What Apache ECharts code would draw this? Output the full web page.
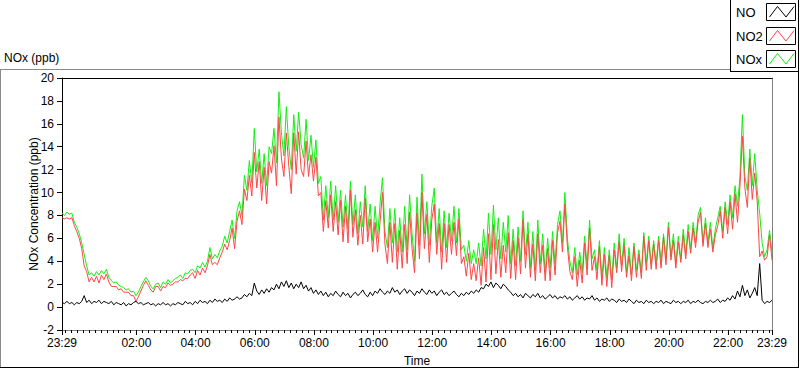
<!DOCTYPE html>
<html><head><meta charset="utf-8">
<script src="https://cdn.jsdelivr.net/npm/echarts@6/dist/echarts.min.js"></script>
<style>html,body{margin:0;padding:0;background:#fff}#c{width:800px;height:369px}</style>
</head><body><div id="c"></div>
<script>
// ---- data ----
const startTime = '23:29';
const stepMinutes = 5;
const seriesNames = ['NO', 'NO2', 'NOx'];
const xTickLabels = ['23:29','02:00','04:00','06:00','08:00','10:00','12:00','14:00','16:00','18:00','20:00','22:00','23:29'];
const yMin = -2, yMax = 20, yStep = 2;

const noValues = [
0.4,0.3,0.5,0.3,0.4,0.2,0.4,0.3,0.5,1.0,0.4,0.6,
0.3,0.5,0.4,0.6,0.3,0.5,0.4,0.3,0.5,0.2,0.4,0.3,
0.2,0.4,0.1,0.3,0.2,0.4,0.5,0.3,0.4,0.2,0.3,0.4,
0.2,0.3,0.1,0.3,0.2,0.4,0.2,0.3,0.1,0.3,0.2,0.4,
0.3,0.2,0.5,0.3,0.4,0.2,0.5,0.3,0.6,0.4,0.5,0.3,
0.6,0.4,0.7,0.5,0.6,0.4,0.7,0.5,0.8,0.6,0.7,0.9,
0.7,0.8,1.1,0.9,1.2,1.0,2.1,1.4,1.1,1.5,1.2,1.6,
1.3,1.7,1.5,2.0,1.6,2.2,1.8,2.3,1.7,2.1,1.6,2.0,
1.7,2.2,1.6,1.9,1.4,1.7,1.2,1.5,1.1,1.4,1.0,1.3,
0.9,1.2,1.0,1.4,1.1,0.9,1.3,1.0,1.2,0.8,1.1,1.3,
1.0,1.2,1.5,1.1,0.9,1.3,1.0,1.4,1.2,1.6,1.3,1.1,
1.4,1.2,1.7,1.3,1.5,1.1,1.4,1.6,1.2,1.5,1.3,1.0,
1.4,1.2,1.6,1.3,1.1,1.5,1.2,1.4,1.0,1.3,1.5,1.1,
1.3,1.0,1.2,1.4,1.1,0.9,1.2,1.0,1.3,1.1,1.4,1.2,
1.5,1.3,1.7,1.6,2.0,1.8,2.2,1.7,2.1,1.9,1.6,2.0,
1.8,1.5,1.3,1.0,1.2,0.9,1.1,0.8,1.2,1.0,0.8,1.1,
0.9,1.2,0.8,1.0,0.7,0.9,1.1,0.8,1.0,0.7,0.9,0.8,
1.0,0.7,0.9,0.6,0.8,1.0,0.7,0.9,0.6,0.8,0.7,1.0,
0.6,0.8,0.5,0.7,0.6,0.8,0.5,0.7,0.6,0.4,0.7,0.5,
0.6,0.4,0.7,0.5,0.3,0.6,0.4,0.5,0.3,0.6,0.4,0.5,
0.3,0.5,0.4,0.6,0.3,0.5,0.4,0.3,0.6,0.4,0.5,0.3,
0.5,0.4,0.6,0.3,0.5,0.4,0.6,0.4,0.3,0.5,0.4,0.6,
0.4,0.5,0.7,0.4,0.6,0.5,0.8,0.6,1.0,0.7,1.4,0.9,
1.9,1.0,1.5,0.8,1.2,1.7,1.0,3.8,0.6,0.3,0.5,0.4,0.6
];

const no2Values = [
7.8,7.7,7.8,7.7,7.8,7.1,6.6,6.0,5.1,3.6,
3.1,2.2,2.6,2.2,2.7,2.1,2.8,2.4,2.9,2.2,
1.8,1.8,1.8,1.5,1.6,1.3,1.3,1.3,1.0,1.0,
0.5,0.9,1.4,1.9,2.3,1.9,1.5,1.3,1.8,1.8,
1.4,1.8,1.7,2.1,1.9,2.0,2.2,2.2,2.4,2.3,
2.5,2.5,2.8,3.0,2.5,3.2,2.8,3.4,3.0,3.6,
4.6,3.7,3.9,3.7,4.3,4.8,5.5,5.0,5.8,6.9,
5.1,7.5,8.4,7.2,10.3,9.3,11.5,9.7,13.5,10.4,
12.7,9.3,12.2,9.0,12.7,11.7,14.1,10.6,16.6,13.0,
11.4,15.2,12.3,9.9,15.2,11.6,15.3,12.0,11.4,14.5,
11.4,13.3,11.0,13.1,9.7,10.0,6.6,9.3,6.9,9.8,
6.6,9.2,6.3,9.3,5.7,8.8,5.6,10.2,6.1,8.5,
5.4,8.0,5.5,9.5,5.7,7.7,4.8,7.4,4.8,7.4,
10.0,5.5,3.8,7.4,3.9,7.3,3.3,6.7,3.4,7.2,
3.8,8.3,5.1,3.0,8.2,4.2,10.0,5.1,8.1,3.9,
7.6,9.0,4.6,7.3,3.3,7.3,3.9,7.2,4.6,7.4,
4.5,7.7,3.8,4.4,2.7,4.7,2.4,3.8,2.3,4.3,
1.9,5.2,2.2,6.4,2.4,7.2,2.9,5.9,2.6,5.4,
3.0,6.5,2.5,5.8,2.4,6.1,2.9,7.6,3.4,6.4,
2.6,5.5,2.3,6.4,3.0,5.4,2.3,5.1,2.3,5.8,
2.8,6.5,7.5,4.8,9.0,5.3,3.1,2.4,4.4,1.8,
4.1,2.1,5.6,2.8,6.9,3.2,4.4,2.4,5.3,1.9,
4.6,1.8,4.5,1.7,5.0,3.0,5.7,3.1,5.4,2.6,
4.5,2.3,5.3,2.6,4.6,2.5,6.2,3.2,5.8,3.3,
5.5,3.3,5.8,3.4,6.1,3.7,7.0,4.1,5.8,3.4,
5.7,3.9,6.3,4.2,6.6,4.7,6.9,5.2,7.4,8.3,
5.3,7.3,5.2,6.8,4.8,6.3,7.1,8.4,6.0,8.7,
6.4,9.2,6.8,9.9,7.4,10.5,14.9,10.4,8.7,13.0,
9.4,11.7,9.2,4.4,4.9,4.1,4.4,6.3,4.1
];

const noxValues = [
8.2,8.0,8.3,8.1,8.2,7.4,7.0,6.4,5.6,4.6,
3.6,2.8,3.0,2.7,3.1,2.8,3.2,2.9,3.3,2.6,
2.3,2.1,2.2,1.9,1.8,1.7,1.5,1.6,1.3,1.4,
1.0,1.3,1.8,2.2,2.6,2.3,1.8,1.6,2.0,2.1,
1.7,2.2,2.0,2.4,2.1,2.3,2.5,2.6,2.8,2.5,
3.0,2.9,3.2,3.3,3.0,3.6,3.4,3.9,3.5,4.0,
5.2,4.2,4.6,4.3,4.9,5.3,6.2,5.6,6.6,7.6,
6.0,8.4,9.2,8.0,11.5,10.2,12.8,10.8,15.6,11.8,
13.8,10.8,13.4,10.6,14.0,13.4,15.6,12.6,18.8,15.2,
13.2,17.5,14.0,12.0,16.8,13.6,17.0,14.2,13.0,16.4,
12.8,15.0,12.2,14.6,10.8,11.4,7.6,10.6,7.8,11.0,
7.6,10.6,7.4,10.2,7.0,9.8,6.8,11.0,7.2,9.8,
6.4,9.2,7.0,10.6,6.6,9.0,5.8,8.8,6.0,9.0,
11.3,6.6,5.2,8.6,5.6,8.6,4.8,7.8,4.8,8.8,
5.0,9.8,6.4,4.0,9.6,5.4,11.6,6.4,9.2,5.4,
8.8,10.4,5.6,8.6,4.8,8.4,5.2,8.2,5.8,8.8,
5.6,8.6,5.0,5.4,4.0,5.8,3.8,5.0,3.8,5.6,
3.6,6.8,4.2,8.2,4.6,8.9,5.0,7.8,4.2,7.4,
4.8,8.0,3.8,6.8,3.6,7.0,4.0,8.4,4.6,7.4,
3.4,6.6,3.2,7.6,3.8,6.4,3.0,6.0,3.4,6.6,
3.8,7.2,8.4,5.6,10.0,6.0,4.0,3.0,5.2,2.8,
4.8,3.0,6.2,3.6,7.6,4.2,5.0,3.2,5.8,2.6,
5.2,2.6,5.0,2.4,5.6,3.4,6.4,3.6,6.0,3.0,
5.2,2.8,5.6,3.2,5.0,3.0,6.5,3.8,6.2,3.8,
5.8,3.8,6.2,4.0,6.4,4.2,7.4,4.4,6.4,3.8,
6.2,4.2,6.8,4.6,7.2,5.0,7.4,5.6,8.0,8.7,
5.6,7.8,5.6,7.4,5.2,6.8,7.8,8.8,6.6,9.2,
7.2,9.8,7.8,10.6,8.8,11.4,16.8,11.4,10.2,13.8,
10.6,13.4,10.2,8.2,5.6,4.4,5.0,6.7,4.8
];

// ---- helpers ----
const FONT = "'Liberation Sans', Arial, sans-serif";
function toMin(s){ const p = s.split(':'); return (+p[0])*60 + (+p[1]); }
const start = toMin(startTime);
const span = (noxValues.length - 1) * stepMinutes;
const majorTicks = xTickLabels.map((s, i) => {
  let d = (toMin(s) - start + 1440) % 1440;
  if (i === xTickLabels.length - 1 && d === 0) d = span;
  return d;
});
const labelMap = {};
majorTicks.forEach((v, i) => { labelMap[v] = xTickLabels[i]; });
const minorStep = 12;
const minorTicks = [];
for (let m = majorTicks[1] % minorStep; m <= span; m += minorStep) minorTicks.push(m);

const toPairs = arr => arr.map((v, i) => [i * stepMinutes, v]);

const textBase = { color: '#000', fontFamily: FONT, fontSize: 12 };

const chart = echarts.init(document.getElementById('c'), null, { renderer: 'svg' });

function legendItem(name, color, y) {
  const bx = 766.5, by = y, bw = 29, bh = 17;
  return [
    { type: 'text', x: 736, y: by + bh / 2 + 0.5, style: { text: name, fill: '#000', font: '13px ' + FONT, verticalAlign: 'middle', align: 'left' } },
    { type: 'rect', shape: { x: bx, y: by, width: bw, height: bh }, style: { fill: '#fff', stroke: '#000', lineWidth: 1 } },
    { type: 'polyline', shape: { points: [[bx + 3, by + 13.5], [bx + 11, by + 3], [bx + 19.5, by + 13.5], [bx + 27.5, by + 3]] }, style: { stroke: color, fill: null, lineWidth: 1 } }
  ];
}

const colors = { NO: '#000000', NO2: '#ff4545', NOx: '#14ee14' };

const option = {
  animation: false,
  backgroundColor: '#fff',
  title: { text: 'NOx (ppb)', left: 4, top: 52, padding: 0, textStyle: { color: '#000', fontFamily: FONT, fontSize: 12, fontWeight: 'normal' } },
  grid: { left: 62, right: 28, top: 78, bottom: 39, containLabel: false, outerBoundsMode: 'none', show: false },
  xAxis: [
    {
      type: 'value', min: 0, max: span, position: 'bottom',
      axisLine: { show: true, onZero: false, lineStyle: { color: '#808080', width: 1 } },
      axisTick: { show: true, inside: false, length: 5, customValues: majorTicks, lineStyle: { color: '#000' } },
      axisLabel: { show: true, customValues: majorTicks, formatter: v => labelMap[v] !== undefined ? labelMap[v] : '', margin: 7, showMinLabel: true, showMaxLabel: true, hideOverlap: false, ...textBase },
      splitLine: { show: false },
      name: 'Time', nameLocation: 'middle', nameGap: 25, nameMoveOverlap: false, nameTextStyle: textBase
    },
    {
      type: 'value', min: 0, max: span, position: 'bottom',
      axisLine: { show: false, onZero: false },
      axisTick: { show: true, inside: false, length: 3, customValues: minorTicks, lineStyle: { color: '#000' } },
      axisLabel: { show: false }, splitLine: { show: false }
    },
    {
      type: 'value', min: 0, max: span, position: 'top',
      axisLine: { show: true, onZero: false, lineStyle: { color: '#000', width: 1 } },
      axisTick: { show: false }, axisLabel: { show: false }, splitLine: { show: false }
    }
  ],
  yAxis: [
    {
      type: 'value', min: yMin, max: yMax, interval: yStep, position: 'left',
      axisLine: { show: true, onZero: false, lineStyle: { color: '#000', width: 1 } },
      axisTick: { show: true, inside: false, length: 5, lineStyle: { color: '#000' } },
      axisLabel: { margin: 8, ...textBase },
      splitLine: { show: false },
      name: 'NOx Concentration (ppb)', nameLocation: 'middle', nameGap: 22, nameMoveOverlap: false, nameTextStyle: textBase
    },
    {
      type: 'value', min: yMin, max: yMax, position: 'right',
      axisLine: { show: true, onZero: false, lineStyle: { color: '#808080', width: 1 } },
      axisTick: { show: false }, axisLabel: { show: false }, splitLine: { show: false }
    }
  ],
  series: [
    { name: 'NOx', type: 'line', data: toPairs(noxValues), showSymbol: false, symbol: 'none', lineStyle: { color: colors.NOx, width: 1 }, itemStyle: { color: colors.NOx } },
    { name: 'NO2', type: 'line', data: toPairs(no2Values), showSymbol: false, symbol: 'none', lineStyle: { color: colors.NO2, width: 1 }, itemStyle: { color: colors.NO2 } },
    { name: 'NO', type: 'line', data: toPairs(noValues), showSymbol: false, symbol: 'none', lineStyle: { color: colors.NO, width: 1 }, itemStyle: { color: colors.NO } }
  ],
  graphic: [
    { type: 'line', shape: { x1: 0, y1: 69.5, x2: 730, y2: 69.5 }, style: { stroke: '#8a8a8a', lineWidth: 1 } },
    { type: 'line', shape: { x1: 0.5, y1: 69.5, x2: 0.5, y2: 368 }, style: { stroke: '#8a8a8a', lineWidth: 1 } },
    { type: 'line', shape: { x1: 0, y1: 367.5, x2: 799, y2: 367.5 }, style: { stroke: '#000', lineWidth: 1 } },
    { type: 'line', shape: { x1: 798.5, y1: 0, x2: 798.5, y2: 368 }, style: { stroke: '#000', lineWidth: 1 } },
    { type: 'line', shape: { x1: 730.5, y1: 0, x2: 730.5, y2: 72 }, style: { stroke: '#000', lineWidth: 1 } },
    { type: 'line', shape: { x1: 730, y1: 71.5, x2: 799, y2: 71.5 }, style: { stroke: '#000', lineWidth: 1 } },
    ...legendItem(seriesNames[0], colors.NO, 3.5),
    ...legendItem(seriesNames[1], colors.NO2, 27.5),
    ...legendItem(seriesNames[2], colors.NOx, 50.5)
  ]
};
chart.setOption(option);
</script>
</body></html>
